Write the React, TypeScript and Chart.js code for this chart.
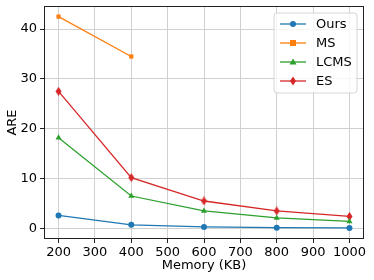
import React, { useEffect, useRef } from "react";
import { Chart, registerables } from "chart.js";
Chart.register(...registerables);

const memory = [200, 400, 600, 800, 1000];
const ours = [2.6, 0.72, 0.3, 0.15, 0.1];
const ms = [42.5, 34.5, null, null, null];
const lcms = [18.2, 6.5, 3.5, 2.1, 1.4];
const es = [27.5, 10.2, 5.5, 3.5, 2.4];
const seriesNames = ["Ours", "MS", "LCMS", "ES"];
const colors = ["#1f77b4", "#ff7f0e", "#2ca02c", "#d62728"];
const xTicks = [200, 300, 400, 500, 600, 700, 800, 900, 1000];
const yTicks = [0, 10, 20, 30, 40];

const FONT = "'DejaVu Sans', sans-serif";

function makeDiamond(color: string): HTMLCanvasElement {
  const c = document.createElement("canvas");
  c.width = 7;
  c.height = 9;
  const ctx = c.getContext("2d")!;
  ctx.fillStyle = color;
  ctx.beginPath();
  ctx.moveTo(3.5, 0);
  ctx.lineTo(6.5, 4.5);
  ctx.lineTo(3.5, 9);
  ctx.lineTo(0.5, 4.5);
  ctx.closePath();
  ctx.fill();
  return c;
}

function drawMarker(ctx: CanvasRenderingContext2D, kind: number, x: number, y: number, color: string) {
  ctx.fillStyle = color;
  ctx.beginPath();
  if (kind === 0) {
    ctx.arc(x, y, 3, 0, Math.PI * 2);
  } else if (kind === 1) {
    ctx.rect(x - 3, y - 3, 6, 6);
  } else if (kind === 2) {
    ctx.moveTo(x, y - 3.5);
    ctx.lineTo(x + 3.5, y + 2.5);
    ctx.lineTo(x - 3.5, y + 2.5);
    ctx.closePath();
  } else {
    ctx.moveTo(x, y - 4.5);
    ctx.lineTo(x + 3, y);
    ctx.lineTo(x, y + 4.5);
    ctx.lineTo(x - 3, y);
    ctx.closePath();
  }
  ctx.fill();
}

export default function App() {
  const ref = useRef<HTMLCanvasElement | null>(null);
  useEffect(() => {
    const canvas = ref.current!;
    const all = [ours, ms, lcms, es];
    const diamond = makeDiamond(colors[3]);
    const styles: any[] = ["circle", "rect", "triangle", diamond];
    const radii = [3, 3, 3.5, 4];
    const datasets = all.map((arr, i) => ({
      label: seriesNames[i],
      data: memory
        .map((m, j) => ({ x: m, y: arr[j] }))
        .filter((p) => p.y !== null),
      borderColor: colors[i],
      backgroundColor: colors[i],
      borderWidth: 1.3,
      pointStyle: styles[i],
      pointRadius: radii[i],
      pointBorderWidth: 0,
      tension: 0,
    }));

    const framePlugin = {
      id: "frame",
      afterDraw(chart: any) {
        const { ctx, chartArea } = chart;
        ctx.save();
        ctx.strokeStyle = "#222";
        ctx.lineWidth = 1;
        ctx.strokeRect(
          Math.round(chartArea.left) + 0.5,
          Math.round(chartArea.top) + 0.5,
          Math.round(chartArea.right - chartArea.left) - 1,
          Math.round(chartArea.bottom - chartArea.top) - 1
        );
        // axis titles
        ctx.fillStyle = "#000";
        ctx.font = `13px ${FONT}`;
        ctx.textAlign = "center";
        ctx.textBaseline = "middle";
        ctx.fillText("Memory (KB)", (chartArea.left + chartArea.right) / 2, 266);
        ctx.save();
        ctx.translate(13, (chartArea.top + chartArea.bottom) / 2);
        ctx.rotate(-Math.PI / 2);
        ctx.fillText("ARE", 0, 0);
        ctx.restore();
        // legend
        const bx = 274, by = 13, bw = 83, bh = 80, r = 3;
        ctx.fillStyle = "rgba(255,255,255,0.8)";
        ctx.strokeStyle = "#d6d6d6";
        ctx.beginPath();
        ctx.moveTo(bx + r, by);
        ctx.lineTo(bx + bw - r, by);
        ctx.quadraticCurveTo(bx + bw, by, bx + bw, by + r);
        ctx.lineTo(bx + bw, by + bh - r);
        ctx.quadraticCurveTo(bx + bw, by + bh, bx + bw - r, by + bh);
        ctx.lineTo(bx + r, by + bh);
        ctx.quadraticCurveTo(bx, by + bh, bx, by + bh - r);
        ctx.lineTo(bx, by + r);
        ctx.quadraticCurveTo(bx, by, bx + r, by);
        ctx.closePath();
        ctx.fill();
        ctx.stroke();
        const ys = [24, 43, 62, 81];
        seriesNames.forEach((name, i) => {
          const y = ys[i];
          ctx.strokeStyle = colors[i];
          ctx.lineWidth = 1.3;
          ctx.beginPath();
          ctx.moveTo(280, y);
          ctx.lineTo(306, y);
          ctx.stroke();
          drawMarker(ctx, i, 293, y, colors[i]);
          ctx.fillStyle = "#000";
          ctx.textAlign = "left";
          ctx.textBaseline = "middle";
          ctx.font = `13px ${FONT}`;
          ctx.fillText(name, 316, y + 1);
        });
        ctx.restore();
      },
    };

    const chart = new Chart(canvas, {
      type: "line",
      data: { datasets },
      options: {
        animation: false,
        responsive: false,
        devicePixelRatio: 1,
        layout: { padding: { top: 6, right: 10, left: 0, bottom: 0 } },
        plugins: { legend: { display: false }, tooltip: { enabled: false } },
        scales: {
          x: {
            type: "linear",
            min: 160,
            max: 1040,
            afterBuildTicks: (s: any) => {
              s.ticks = xTicks.map((v) => ({ value: v }));
            },
            afterFit: (s: any) => {
              s.height = 41;
              s.paddingLeft = 0;
              s.paddingRight = 0;
              s.paddingTop = 0;
              s.paddingBottom = 0;
            },
            grid: { color: "#d0d0d0", lineWidth: 1, tickColor: "#222", tickLength: 4 },
            border: { display: false },
            ticks: {
              color: "#000",
              font: { family: FONT, size: 13 },
              padding: 2,
              maxRotation: 0,
              autoSkip: false,
              callback: (v: any) => String(v),
            },
          },
          y: {
            type: "linear",
            min: -2.125,
            max: 44.625,
            afterBuildTicks: (s: any) => {
              s.ticks = yTicks.map((v) => ({ value: v }));
            },
            afterFit: (s: any) => {
              s.width = 44;
              s.paddingLeft = 0;
              s.paddingRight = 0;
              s.paddingTop = 0;
              s.paddingBottom = 0;
            },
            grid: { color: "#d0d0d0", lineWidth: 1, tickColor: "#222", tickLength: 4 },
            border: { display: false },
            ticks: {
              color: "#000",
              font: { family: FONT, size: 13 },
              padding: 3,
              callback: (v: any) => String(v),
            },
          },
        },
      },
      plugins: [framePlugin],
    } as any);
    return () => chart.destroy();
  }, []);
  return (
    <div style={{ position: "fixed", left: 0, top: 0, width: 374, height: 280, background: "#fff" }}>
      <canvas ref={ref} width={374} height={280} style={{ width: 374, height: 280 }} />
    </div>
  );
}
